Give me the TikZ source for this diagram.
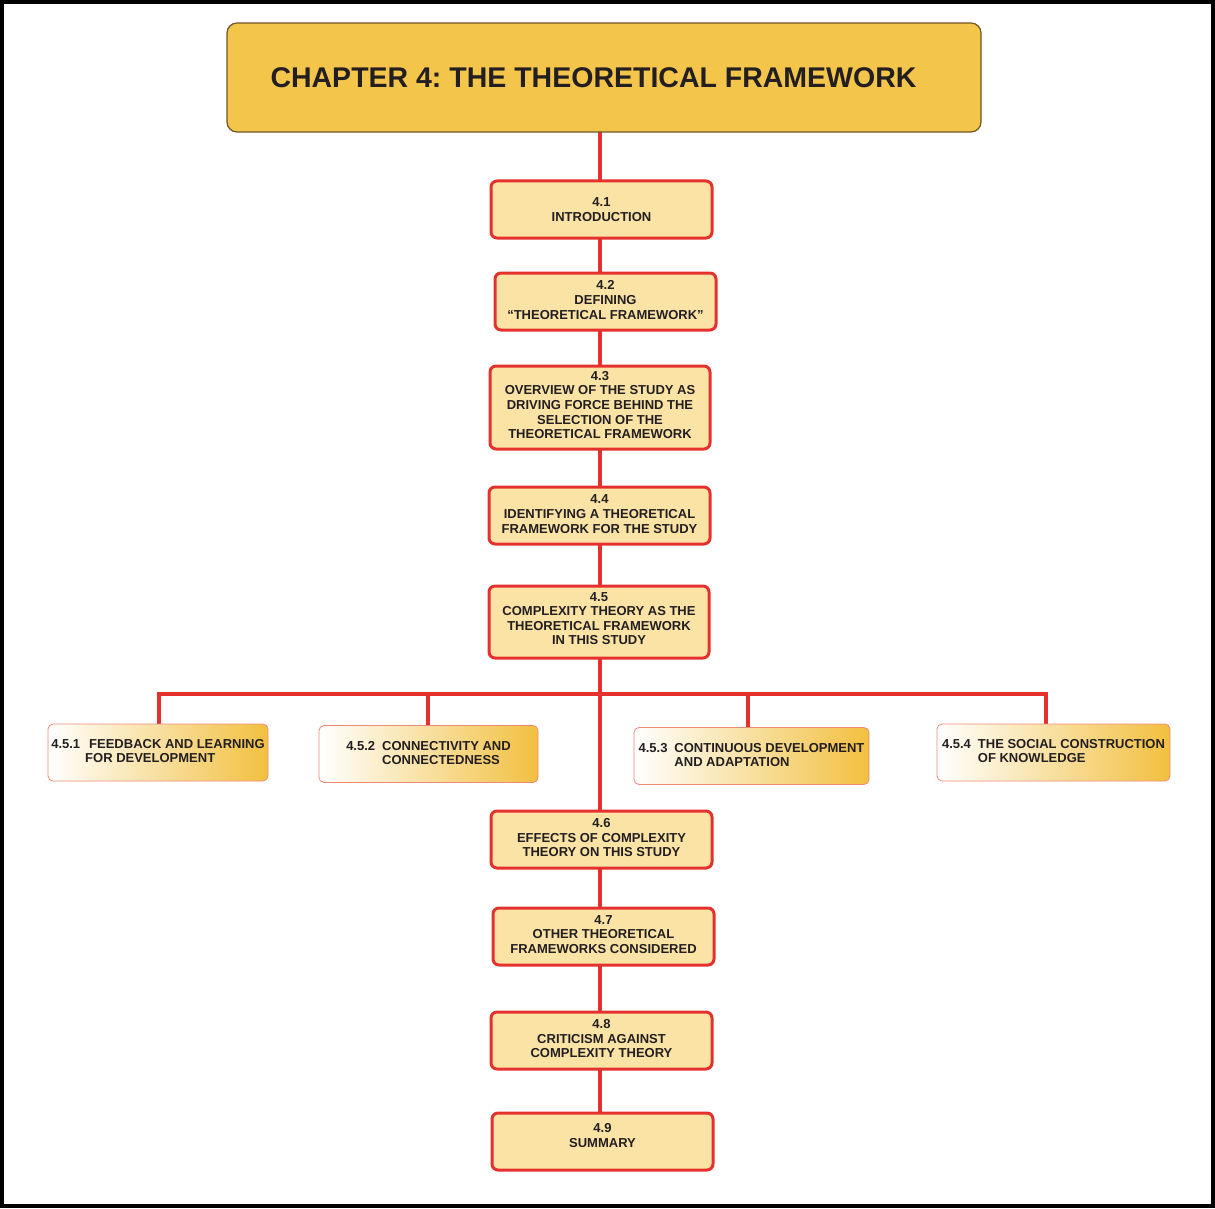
\documentclass[tikz,border=0pt]{standalone}
\usepackage{fontspec}
\setmainfont{Liberation Sans}
\frenchspacing
\definecolor{redline}{HTML}{E5312E}
\definecolor{boxfill}{HTML}{FBE3A6}
\definecolor{titlefill}{HTML}{F4C54B}
\definecolor{titleedge}{HTML}{6E5523}
\definecolor{gold}{HTML}{F2C040}
\definecolor{subedge}{HTML}{EE8A78}
\definecolor{txt}{HTML}{231F20}
\newcommand{\lift}[1]{\rule[-#1]{0pt}{0pt}}
\begin{document}
\begin{tikzpicture}[x=1pt,y=-1pt,
  titlebox/.style={draw=titleedge, line width=1.2, fill=titlefill, rounded corners=10,
    minimum width=754, minimum height=109, inner sep=0},
  secbox/.style={draw=redline, line width=3, fill=boxfill, rounded corners=6,
    minimum width=221, minimum height=57, inner sep=0, align=center, text=txt,
    font=\bfseries\fontsize{13}{14.6}\selectfont},
  subbox/.style={draw=subedge, line width=0.8, rounded corners=5,
    left color=white, middle color=boxfill!35!white, right color=gold,
    minimum width=220, minimum height=57, inner sep=0, text=txt,
    font=\bfseries\fontsize{13}{15}\selectfont},
  conn/.style={draw=redline, line width=3.5}]
\useasboundingbox (0,0) rectangle (1215,1209);
\draw[line width=4] (2,2) rectangle (1213,1206);
% central spine and branch
\coordinate (top) at (600,132);
\coordinate (bot) at (600,1113);
\draw[conn] (top) -- (bot);
\coordinate (b1) at (159,694);
\coordinate (b4) at (1046,694);
\draw[conn] (159,724) -- (b1) -- (b4) -- (1046,724);
\draw[conn] (428,694) -- (428,726);
\draw[conn] (748,694) -- (748,728);
% title
\node[titlebox] (title) at (604,77.5) {};
\node[text=txt, font=\bfseries\fontsize{28.5}{32}\selectfont] (tt) at (593.5,78) {CHAPTER 4: THE THEORETICAL FRAMEWORK};
% sections
\node[secbox] (s1) at (601.5,209.5) {4.1\\INTRODUCTION};
\node[secbox] (s2) at (605.5,301.5) {4.2\\DEFINING\\“THEORETICAL FRAMEWORK”\lift{3pt}};
\node[secbox, minimum width=220, minimum height=83] (s3) at (600,407.5) {4.3\\OVERVIEW OF THE STUDY AS\\DRIVING FORCE BEHIND THE\\SELECTION OF THE\\THEORETICAL FRAMEWORK\lift{5pt}};
\node[secbox] (s4) at (599.5,515.5) {4.4\\IDENTIFYING A THEORETICAL\\FRAMEWORK FOR THE STUDY\lift{3pt}};
\node[secbox, minimum width=220, minimum height=72] (s5) at (599,622) {4.5\\COMPLEXITY THEORY AS THE\\THEORETICAL FRAMEWORK\\IN THIS STUDY\lift{7pt}};
\node[secbox] (s6) at (601.5,839.5) {4.6\\EFFECTS OF COMPLEXITY\\THEORY ON THIS STUDY\lift{4pt}};
\node[secbox] (s7) at (603.5,936.5) {4.7\\OTHER THEORETICAL\\FRAMEWORKS CONSIDERED\lift{4pt}};
\node[secbox] (s8) at (601.5,1040.5) {4.8\\CRITICISM AGAINST\\COMPLEXITY THEORY\lift{4pt}};
\node[secbox] (s9) at (602.5,1141.5) {4.9\\SUMMARY\lift{12pt}};
% subsections
\node[subbox] (u1) at (158,752.5) {\begin{tabular}{@{}l@{\hspace{9pt}}l@{}}4.5.1 & FEEDBACK AND LEARNING\\[-1pt] & \hspace{-4pt}FOR DEVELOPMENT\end{tabular}};
\node[subbox, minimum width=219] (u2) at (428.5,754) {\begin{tabular}{@{}l@{\hspace{7pt}}l@{}}4.5.2 & CONNECTIVITY AND\\[-1pt] & CONNECTEDNESS\end{tabular}};
\node[subbox, minimum width=235] (u3) at (751.5,756) {\begin{tabular}{@{}l@{\hspace{7pt}}l@{}}4.5.3 & CONTINUOUS DEVELOPMENT\\[-1pt] & AND ADAPTATION\end{tabular}};
\node[subbox, minimum width=233] (u4) at (1053.5,752.5) {\begin{tabular}{@{}l@{\hspace{7pt}}l@{}}4.5.4 & THE SOCIAL CONSTRUCTION\\[-1pt] & OF KNOWLEDGE\end{tabular}};
\end{tikzpicture}
\end{document}
